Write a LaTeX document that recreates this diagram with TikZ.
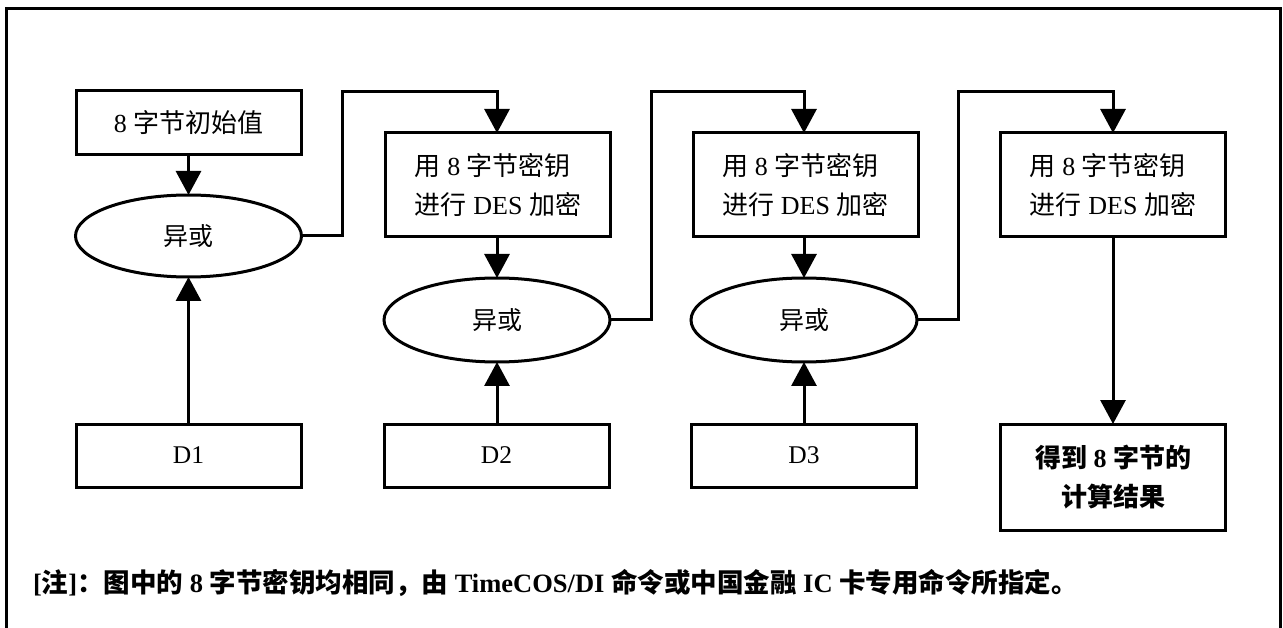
\documentclass[tikz,border=0pt]{standalone}
\usepackage{fontspec}
\setmainfont{Liberation Serif}
\newfontfamily\cjk{Noto Sans CJK SC}
\usetikzlibrary{shapes.geometric,arrows.meta}
\tikzset{
  every node/.style={inner sep=0pt, outer sep=0pt},
  boxnode/.style={draw, line width=3pt, rectangle, minimum width=225pt, align=left,
    font=\fontsize{26}{39}\selectfont},
  dnode/.style={boxnode, minimum height=63pt, font=\fontsize{25.5}{30}\selectfont},
  ellnode/.style={draw, line width=3pt, ellipse, minimum width=226pt, minimum height=84pt,
    font=\fontsize{25}{30}\selectfont},
  arr/.style={line width=3pt, line join=miter, -{Triangle[length=24pt,width=25pt]}},
  framestyle/.style={line width=3pt}
}
\begin{document}
\begin{tikzpicture}[x=1pt,y=-1pt]
\useasboundingbox (0,0) rectangle (1283,628);
\draw[framestyle] (6,9) rectangle (1280,660);

% column 1
\node[boxnode, minimum height=64pt] (A) at (188.5,123) {8 {\cjk 字节初始值}};
\node[ellnode, minimum height=82pt] (E1) at (188.5,236) {\cjk 异或};
\node[dnode] (D1) at (188.5,455.5) {D1};

% column 2
\node[boxnode, minimum height=104pt] (B) at (498,185) {{\cjk 用} 8 {\cjk 字节密钥}\\{\cjk 进行} DES {\cjk 加密}};
\node[ellnode] (E2) at (497,320) {\cjk 异或};
\node[dnode] (D2) at (496.5,455.5) {D2};

% column 3
\node[boxnode, minimum height=104pt] (C) at (805.5,185) {{\cjk 用} 8 {\cjk 字节密钥}\\{\cjk 进行} DES {\cjk 加密}};
\node[ellnode] (E3) at (804,320) {\cjk 异或};
\node[dnode] (D3) at (804,455.5) {D3};

% column 4
\node[boxnode, minimum height=104pt] (D) at (1113,185) {{\cjk 用} 8 {\cjk 字节密钥}\\{\cjk 进行} DES {\cjk 加密}};
\node[boxnode, minimum height=106pt, align=center, font=\bfseries\fontsize{26}{39}\selectfont] (R) at (1113,477)
  {{\cjk 得到} 8 {\cjk 字节的}\\{\cjk 计算结果}};

% waypoints
\coordinate (k1) at (342,92);
\coordinate (k2) at (651,92);
\coordinate (k3) at (958,92);

% arrows
\draw[arr] (A.south) -- (E1.north);
\draw[arr] (D1.north) -- (E1.south);
\draw[arr] (E1.east) -| (k1) -| (B.north -| E2.center);
\draw[arr] (B.south -| E2.center) -- (E2.north);
\draw[arr] (D2.north -| E2.center) -- (E2.south);
\draw[arr] (E2.east) -| (k2) -| (C.north -| E3.center);
\draw[arr] (C.south -| E3.center) -- (E3.north);
\draw[arr] (D3.north) -- (E3.south);
\draw[arr] (E3.east) -| (k3) -| (D.north);
\draw[arr] (D.south) -- (R.north);

% note
\node[anchor=west, font=\bfseries\fontsize{26.5}{30}\selectfont] (note) at (33,583)
  {[{\cjk 注}]{\cjk ：图中的} 8 {\cjk 字节密钥均相同，由} TimeCOS/DI {\cjk 命令或中国金融} IC {\cjk 卡专用命令所指定。}};
\end{tikzpicture}
\end{document}
